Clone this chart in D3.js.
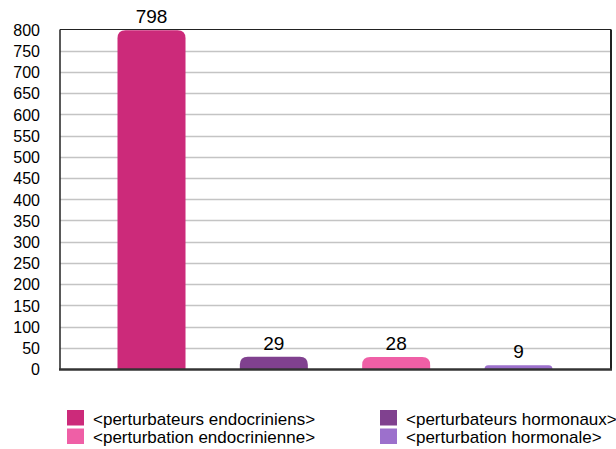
<!DOCTYPE html>
<html>
<head>
<meta charset="utf-8">
<script src="https://cdn.jsdelivr.net/npm/d3@7"></script>
<style>
  html, body { margin: 0; padding: 0; background: #fff; }
  svg { display: block; font-family: "Liberation Sans", Arial, Helvetica, sans-serif; }
</style>
</head>
<body>
<svg id="chart" width="616" height="449"></svg>
<script>
// Occurrences of each search term
const categories = [
  "<perturbateurs endocriniens>",
  "<perturbateurs hormonaux>",
  "<perturbation endocrinienne>",
  "<perturbation hormonale>"
];
const values = [798, 29, 28, 9];
const colors = ["#cc2a7a", "#80418f", "#ef5fa6", "#9c70cc"];
const yTicks = [0, 50, 100, 150, 200, 250, 300, 350, 400, 450, 500, 550, 600, 650, 700, 750, 800];
// Legend order: two columns, read row by row
const legendOrder = [0, 1, 2, 3];

const svg = d3.select("#chart");

const plot = { left: 60, right: 611, top: 29.5, bottom: 369 };

const y = d3.scaleLinear().domain([0, 800]).range([plot.bottom, plot.top]);
const x = d3.scaleBand()
  .domain(categories)
  .range([117.5, 552.5])
  .paddingInner(0.444)
  .paddingOuter(0);

// Horizontal grid lines
svg.append("g")
  .selectAll("line")
  .data(yTicks.filter(t => t > 0 && t < 800))
  .join("line")
  .attr("x1", plot.left)
  .attr("x2", plot.right)
  .attr("y1", d => Math.round(y(d)) + 0.5)
  .attr("y2", d => Math.round(y(d)) + 0.5)
  .attr("stroke", "#c4c4c4")
  .attr("stroke-width", 1.5);

// Y axis tick labels
const yAxis = d3.axisLeft(y).tickValues(yTicks).tickSize(0).tickPadding(0);
const yg = svg.append("g")
  .attr("transform", `translate(${plot.left - 20},0)`)
  .call(yAxis);
yg.select(".domain").remove();
yg.selectAll("text")
  .attr("font-size", 16)
  .attr("font-family", "'Liberation Sans', Arial, sans-serif")
  .attr("fill", "#000")
  .attr("dy", "0.36em");

// Bars with rounded top corners
function topRoundedBar(x0, y0, w, h, r) {
  r = Math.min(r, h, w / 2);
  return `M${x0},${y0 + h}` +
    `V${y0 + r}` +
    `Q${x0},${y0} ${x0 + r},${y0}` +
    `H${x0 + w - r}` +
    `Q${x0 + w},${y0} ${x0 + w},${y0 + r}` +
    `V${y0 + h}Z`;
}

svg.append("g")
  .selectAll("path")
  .data(values)
  .join("path")
  .attr("d", (d, i) => {
    const x0 = x(categories[i]);
    const y0 = y(d);
    return topRoundedBar(x0, y0, x.bandwidth(), plot.bottom - y0, 8);
  })
  .attr("fill", (d, i) => colors[i]);

// Value labels
svg.append("g")
  .selectAll("text")
  .data(values)
  .join("text")
  .attr("x", (d, i) => x(categories[i]) + x.bandwidth() / 2)
  .attr("y", d => y(d) - 7)
  .attr("text-anchor", "middle")
  .attr("font-size", 19)
  .attr("fill", "#000")
  .text(d => d);

// Frame: top and right thin lines, left and bottom axis lines
svg.append("line")
  .attr("x1", plot.left).attr("x2", plot.right)
  .attr("y1", plot.top).attr("y2", plot.top)
  .attr("stroke", "#222").attr("stroke-width", 1.2);
svg.append("line")
  .attr("x1", plot.right).attr("x2", plot.right)
  .attr("y1", plot.top).attr("y2", plot.bottom)
  .attr("stroke", "#222").attr("stroke-width", 2);
svg.append("line")
  .attr("x1", plot.left).attr("x2", plot.left)
  .attr("y1", plot.top).attr("y2", plot.bottom)
  .attr("stroke", "#222").attr("stroke-width", 1.5);
svg.append("line")
  .attr("x1", plot.left - 1).attr("x2", plot.right + 1)
  .attr("y1", plot.bottom + 0.5).attr("y2", plot.bottom + 0.5)
  .attr("stroke", "#333").attr("stroke-width", 2.5);

// Legend
const legend = svg.append("g");
const colX = [67, 380];
const rowY = [410, 428.5];
legendOrder.forEach((idx, k) => {
  const col = k % 2;
  const row = Math.floor(k / 2);
  const g = legend.append("g")
    .attr("transform", `translate(${colX[col]},${rowY[row]})`);
  g.append("rect")
    .attr("width", 17).attr("height", 15.5)
    .attr("fill", colors[idx]);
  g.append("text")
    .attr("x", 26).attr("y", 8.5)
    .attr("dy", "0.36em")
    .attr("font-size", 17)
    .attr("fill", "#000")
    .text(categories[idx]);
});
</script>
</body>
</html>
